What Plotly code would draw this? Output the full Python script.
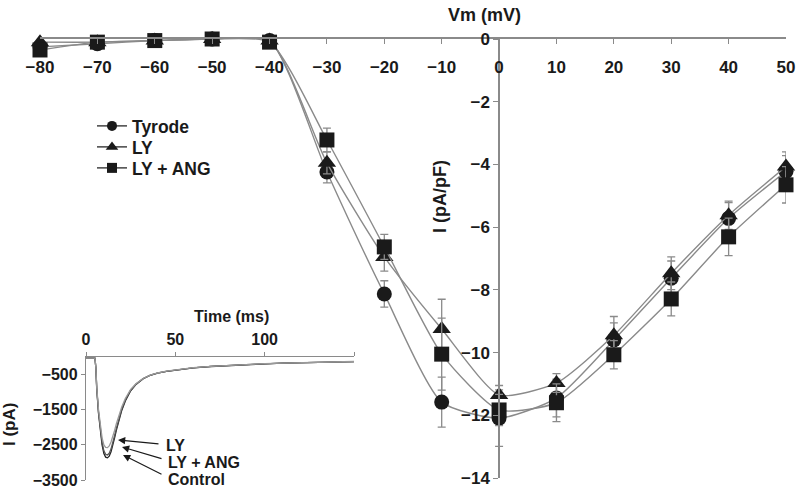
import plotly.graph_objects as go

# ---- Main I-V data ----
vm = [-80, -70, -60, -50, -40, -30, -20, -10, 0, 10, 20, 30, 40, 50]
tyrode = [-0.25, -0.15, -0.05, 0.0, -0.05, -4.24, -8.13, -11.58, -12.09, -11.45, -9.6, -7.63, -5.72, -4.22]
tyrode_se = [0, 0, 0, 0, 0, 0.35, 0.42, 0.8, 0.9, 0.6, 0.55, 0.55, 0.5, 0.5]
ly = [-0.1, -0.1, -0.05, 0.0, -0.05, -3.95, -6.95, -9.25, -11.35, -10.97, -9.45, -7.47, -5.62, -4.07]
ly_se = [0, 0, 0, 0, 0, 0.35, 0.45, 0.95, 0.3, 0.3, 0.6, 0.52, 0.45, 0.47]
lyang = [-0.35, -0.1, -0.05, 0.0, -0.1, -3.22, -6.63, -10.05, -11.83, -11.6, -10.07, -8.29, -6.31, -4.65]
lyang_se = [0, 0, 0, 0, 0, 0.38, 0.4, 1.15, 0.5, 0.6, 0.45, 0.54, 0.6, 0.58]

x_ticks = [-80, -70, -60, -50, -40, -30, -20, -10, 0, 10, 20, 30, 40, 50]
y_ticks = [0, -2, -4, -6, -8, -10, -12, -14]

# ---- Inset current traces ----
t_ms = [0, 5, 5.5, 6, 7, 8, 9, 10, 11, 12, 13, 14, 15, 16, 17, 18, 20, 22, 25, 28,
        32, 36, 40, 45, 50, 60, 70, 80, 90, 100, 110, 120, 130, 140, 150]
i_control = [-30, -30, -300, -900, -1600, -2100, -2500, -2750, -2850, -2870, -2820, -2700,
             -2520, -2300, -2080, -1870, -1520, -1250, -960, -780, -620, -520, -460, -410,
             -370, -310, -270, -240, -215, -195, -175, -160, -150, -140, -130]
i_lyang = [-30, -30, -290, -880, -1560, -2050, -2430, -2670, -2770, -2790, -2740, -2620,
           -2450, -2240, -2030, -1830, -1490, -1230, -945, -770, -615, -518, -458, -408,
           -368, -308, -268, -238, -213, -193, -174, -159, -149, -139, -129]
i_ly = [-30, -30, -280, -850, -1500, -1950, -2300, -2500, -2570, -2580, -2530, -2420,
        -2270, -2090, -1900, -1720, -1420, -1180, -920, -760, -610, -515, -455, -405,
        -365, -305, -265, -235, -210, -190, -172, -158, -148, -138, -128]
inset_x_ticks = [0, 50, 100, 150]
inset_x_labels = ["0", "50", "100", ""]
inset_y_ticks = [-500, -1500, -2500, -3500]

FONT = "Liberation Sans, Arial, sans-serif"
INK = "#1a1a1a"
GREY = "#8a8a8a"
W, H = 800, 494

def px(x):
    return x / W

def py(y):
    return 1 - y / H

fig = go.Figure()

series = [
    ("Tyrode", tyrode, tyrode_se, "circle", 15, "legend"),
    ("LY", ly, ly_se, "triangle-up", 16, "legend2"),
    ("LY + ANG", lyang, lyang_se, "square", 15, "legend3"),
]
for name, vals, se, sym, sz, leg in series:
    fig.add_trace(go.Scatter(
        x=vm, y=vals, name=name, mode="lines+markers",
        line=dict(color=GREY, width=1.4, shape="spline", smoothing=0.6),
        marker=dict(symbol=sym, size=sz, color=INK),
        error_y=dict(type="data", array=se, color=GREY, thickness=1.3, width=4),
        cliponaxis=False, xaxis="x", yaxis="y", showlegend=False,
    ))
    # legend entry (small symbol, dark line) drawn by the legend only
    fig.add_trace(go.Scatter(
        x=[None], y=[None], name=name, mode="lines+markers",
        line=dict(color="#444444", width=1.5),
        marker=dict(symbol=sym, size=10 if sym != "triangle-up" else 11, color=INK),
        xaxis="x", yaxis="y", showlegend=True, legend=leg,
    ))

inset = [
    ("Control", i_control, "#222222"),
    ("LY + ANG", i_lyang, "#555555"),
    ("LY", i_ly, "#9a9a9a"),
]
for name, vals, col in inset:
    fig.add_trace(go.Scatter(
        x=t_ms, y=vals, mode="lines", line=dict(color=col, width=1.3),
        showlegend=False, xaxis="x2", yaxis="y2", hoverinfo="skip",
    ))

tick_font = dict(family=FONT, size=17, color=INK, weight="bold")
small_font = dict(family=FONT, size=16, color=INK, weight="bold")

def legend_at(ycenter):
    return dict(x=px(92), y=py(ycenter), xanchor="left", yanchor="middle",
                font=dict(family=FONT, size=17.5, color=INK, weight="bold"),
                bgcolor="rgba(0,0,0,0)", itemwidth=30, borderwidth=0)

fig.update_layout(
    width=W, height=H,
    margin=dict(l=0, r=0, t=0, b=0),
    paper_bgcolor="white", plot_bgcolor="rgba(0,0,0,0)",
    font=dict(family=FONT, color=INK),
    showlegend=True,
    legend=legend_at(126),
    legend2=legend_at(147),
    legend3=legend_at(168),
    xaxis=dict(domain=[px(40), px(786)], range=[-80, 50], side="top", anchor="y",
               tickvals=x_ticks, ticks="inside", ticklen=5, tickcolor=GREY,
               showline=True, linecolor=GREY, linewidth=1.5,
               ticklabelposition="inside", ticklabelstandoff=18,
               ticklabeloverflow="allow",
               tickfont=tick_font, showgrid=False, zeroline=False, automargin=False),
    yaxis=dict(domain=[py(478), py(39)], range=[-14, 0], anchor="free",
               position=px(499.1),
               tickvals=y_ticks, ticks="outside", ticklen=5, tickcolor=GREY,
               showline=True, linecolor=GREY, linewidth=1.5,
               ticklabeloverflow="allow",
               tickfont=tick_font, showgrid=False, zeroline=False, automargin=False),
    xaxis2=dict(domain=[px(86), px(354)], range=[0, 150], side="top", anchor="y2",
                tickvals=inset_x_ticks, ticktext=inset_x_labels, ticks="outside",
                ticklen=4, tickcolor=GREY, showline=True, linecolor=GREY, linewidth=1.3,
                tickfont=small_font, showgrid=False, zeroline=False, automargin=False),
    yaxis2=dict(domain=[py(480), py(357)], range=[-3500, 0], anchor="x2",
                tickvals=inset_y_ticks, ticks="outside", ticklen=4, tickcolor=GREY,
                showline=True, linecolor=GREY, linewidth=1.3,
                tickfont=small_font, showgrid=False, zeroline=False, automargin=False),
)

ann = []
def text(x, y, s, size=16, angle=0, xanchor="center"):
    ann.append(dict(x=px(x), y=py(y), xref="paper", yref="paper", text=s,
                    showarrow=False, textangle=angle, xanchor=xanchor, yanchor="middle",
                    font=dict(family=FONT, size=size, color=INK, weight="bold")))

text(485, 15, "Vm (mV)", size=18)
text(440, 197, "I (pA/pF)", size=18, angle=-90)
text(232, 316, "Time (ms)", size=16)
text(9, 425, "I (pA)", size=17, angle=-90)
text(164, 445, "LY", size=16, xanchor="left")
text(166, 462, "LY + ANG", size=16, xanchor="left")
text(166, 479, "Control", size=16, xanchor="left")

def arrow(x0, y0, x1, y1):
    ann.append(dict(x=px(x1), y=py(y1), xref="paper", yref="paper",
                    ax=x0 - x1, ay=y0 - y1, axref="pixel", ayref="pixel",
                    text="", showarrow=True, arrowhead=2, arrowsize=1.2,
                    arrowwidth=1.2, arrowcolor=INK))

arrow(160, 444, 118, 440)
arrow(163, 459, 122, 447)
arrow(163, 475, 123, 455)

fig.update_layout(annotations=ann)
fig.write_html("out.html", config={"displayModeBar": False},
               post_script="document.body.style.margin='0px';document.body.style.padding='0px';")
